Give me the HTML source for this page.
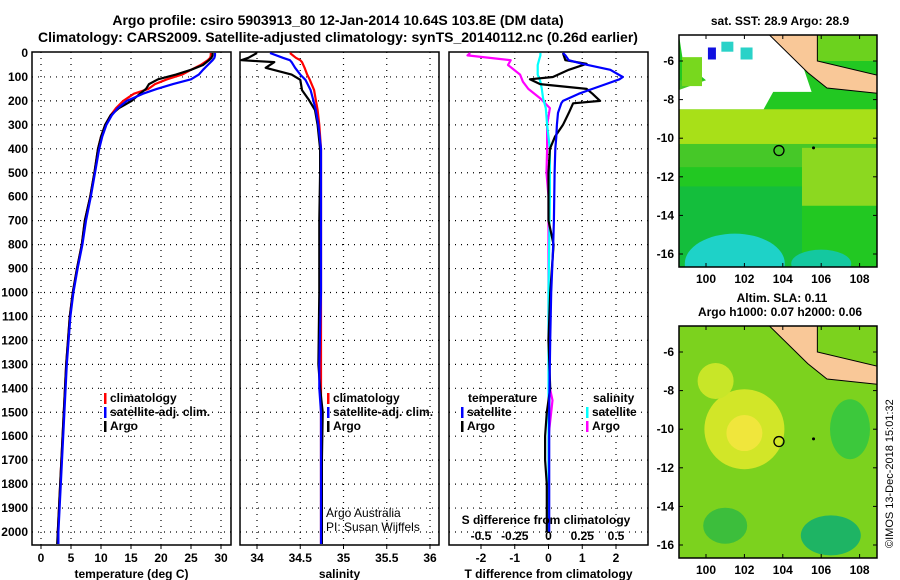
<!DOCTYPE html>
<html><head><meta charset="utf-8">
<style>
html,body{margin:0;padding:0;background:#fff;}
svg{display:block;font-family:"Liberation Sans",sans-serif;}
.t{font-weight:bold;font-size:12px;fill:#000;}
.n{font-size:12px;fill:#000;}
</style></head>
<body>
<svg id="c" width="900" height="580" viewBox="0 0 900 580">
<text x="338" y="25" text-anchor="middle" style="font-size:14px;font-weight:bold">Argo profile: csiro 5903913_80 12-Jan-2014 10.64S 103.8E (DM data)</text>
<text x="338" y="42" text-anchor="middle" style="font-size:14px;font-weight:bold">Climatology: CARS2009. Satellite-adjusted climatology: synTS_20140112.nc (0.26d earlier)</text>
<text x="780" y="25" text-anchor="middle" class="t">sat. SST: 28.9 Argo: 28.9</text>
<text x="782" y="302" text-anchor="middle" class="t">Altim. SLA: 0.11</text>
<text x="780" y="316" text-anchor="middle" class="t">Argo h1000: 0.07 h2000: 0.06</text>
<text transform="translate(893,548) rotate(-90)" style="font-size:11px">©IMOS 13-Dec-2018 15:01:32</text>
</svg>
<script>
// ---- data ----
const depthT = [0,10,20,30,50,70,90,110,130,150,170,200,230,260,300,350,400,500,600,700,800,900,1000,1100,1200,1300,1400,1500,1600,1700,1800,1900,2000,2050];
const tempArgo = [28.6,28.6,28.4,28.0,27.0,25.0,22.5,19.5,18.0,17.5,16.5,15.1,13.0,11.6,10.7,10.0,9.5,8.9,8.2,7.3,6.8,6.0,5.3,4.8,4.5,4.2,4.0,3.8,3.6,3.4,3.2,3.0,2.8,2.7];
const tempClim = [28.3,28.3,28.2,27.8,26.6,25.0,23.5,21.0,19.0,17.9,15.5,13.7,12.5,11.6,10.7,10.0,9.5,8.9,8.2,7.3,6.8,6.0,5.3,4.8,4.5,4.2,4.0,3.8,3.6,3.4,3.2,3.0,2.8,2.8];
const tempSat  = [29.0,29.0,28.9,28.6,27.8,27.0,26.3,25.0,22.0,19.3,17.0,14.3,12.8,11.8,10.9,10.2,9.7,9.0,8.3,7.5,6.9,6.1,5.4,4.9,4.6,4.3,4.1,3.9,3.7,3.5,3.3,3.1,2.9,2.9];
const depthS = [0,20,30,38,62,90,112,155,196,238,300,400,500,700,1000,1300,1400,1500,1700,2000,2050];
const salArgo = [34.0,33.9,33.82,34.2,34.1,34.4,34.5,34.52,34.6,34.67,34.7,34.73,34.73,34.72,34.72,34.71,34.73,34.76,34.75,34.75,34.75];
const salClim = [34.38,34.45,34.5,34.52,34.55,34.58,34.61,34.66,34.68,34.7,34.72,34.74,34.74,34.74,34.74,34.74,34.74,34.74,34.74,34.74,34.74];
const salSat  = [34.15,34.3,34.38,34.4,34.44,34.5,34.56,34.62,34.65,34.68,34.71,34.74,34.74,34.74,34.74,34.72,34.72,34.74,34.74,34.74,34.74];
const depthD = [0,10,30,45,70,100,110,130,150,170,200,210,250,300,350,400,500,700,800,1000,1200,1400,1500,1600,1700,1800,2000];
const dTArgo = [0.43,0.45,0.5,1.13,0.6,0.13,-0.55,-0.25,1.13,1.3,1.53,0.73,0.6,0.43,0.19,0.04,0.0,0.0,0.15,0.05,0.0,0.05,-0.05,-0.1,-0.1,-0.05,-0.05];
const dTSat  = [0.43,0.5,0.6,1.0,1.83,2.2,2.1,1.7,1.3,0.9,0.43,0.38,0.28,0.25,0.23,0.2,0.18,0.16,0.14,0.08,0.05,0.03,0.02,0.02,0.02,0.02,0.02];
const depthSD = [0,10,30,50,90,120,150,190,230,300,400,500,600,800,1000,1200,1400,1450,1500,1600,1800,2000];
const dSArgo = [-0.58,-0.6,-0.28,-0.3,-0.21,-0.19,-0.15,-0.06,0.01,-0.01,-0.01,-0.015,0.0,0.0,0.0,0.0,0.01,0.03,0.02,0.0,0.0,0.0];
const dSSat  = [-0.06,-0.06,-0.07,-0.08,-0.08,-0.06,-0.05,-0.04,-0.02,-0.01,0.01,0.01,0.01,0.005,0.0,0.0,0.0,0.0,0.0,0.0,0.0,0.0];
const depthTicks = [0,100,200,300,400,500,600,700,800,900,1000,1100,1200,1300,1400,1500,1600,1700,1800,1900,2000];
const tempTicks = [0,5,10,15,20,25,30];
const salTicks = [34,34.5,35,35.5,36];
const salTickLabels = ["34","34.5","35","35.5","36"];
const dTTicks = [-2,-1,0,1,2];
const dSTicks = [-0.5,-0.25,0,0.25,0.5];
const dSTickLabels = ["-0.5","-0.25","0","0.25","0.5"];

const svg = document.getElementById('c');
const NS = 'http://www.w3.org/2000/svg';
function mk(tag, attrs, parent){const e=document.createElementNS(NS,tag);for(const k in attrs)e.setAttribute(k,attrs[k]);(parent||svg).appendChild(e);return e;}
function txt(x,y,s,anchor,cls,parent){const e=mk('text',{x:x,y:y,'text-anchor':anchor||'start','class':cls||'t'},parent);e.textContent=s;return e;}

const TOP=52, BOT=545;
const yD = d => 53 + d*0.2395;
function panel(name,x0,x1,xs,ticks,labels,xlabel,showY){
  const g=mk('g',{});
  
  
  depthTicks.forEach(d=>{ if(d>0){const l=mk('line',{x1:x0,x2:x1,y1:yD(d),y2:yD(d),stroke:'#000','stroke-dasharray':'1,5','stroke-width':1.2},g);
     }});
  ticks.forEach((v,i)=>{const x=xs(v);const l=mk('line',{x1:x,x2:x,y1:TOP,y2:BOT,stroke:'#000','stroke-dasharray':'1,5','stroke-width':1.2},g);
     
    mk('line',{x1:x,x2:x,y1:BOT,y2:BOT+4,stroke:'#000'},g);
    const t=txt(x,BOT+17,labels[i],'middle','t',g);
     });
  if(showY){depthTicks.forEach(d=>{const t=txt(x0-4,yD(d)+4,String(d),'end','t',g);
     });}
  const r=mk('rect',{x:x0,y:TOP,width:x1-x0,height:BOT-TOP,fill:'none',stroke:'#000','stroke-width':1.5},g);
   
  const xl=txt((x0+x1)/2,BOT+33,xlabel,'middle','t',g);
   
  return g;
}
function line(g,depths,vals,xs,color,name){
  const pts=depths.map((d,i)=>xs(vals[i]).toFixed(1)+','+yD(d).toFixed(1)).join(' ');
  const p=mk('polyline',{points:pts,fill:'none',stroke:color,'stroke-width':2.2,'stroke-linejoin':'round'},g);
  
  
}
function legend(g,x,y,items){
  items.forEach((it,i)=>{
    mk('rect',{x:x,y:y+i*14-9,width:2.5,height:11,fill:it[0]},g);
    const t=txt(x+6,y+i*14,it[1],'start','t',g);
    
    
  });
}
const xT = v => 41 + v*6;
const g1 = panel('temperature-panel',32,231,xT,tempTicks,tempTicks.map(String),'temperature (deg C)',true);
line(g1,depthT,tempClim,xT,'#f00','temp-climatology-line');
line(g1,depthT,tempArgo,xT,'#000','temp-argo-line');
line(g1,depthT,tempSat,xT,'#00f','temp-satellite-line');
legend(g1,104,402,[['#f00','climatology'],['#00f','satellite-adj. clim.'],['#000','Argo']]);
const xS = v => 257 + (v-34)*86.5;
const g2 = panel('salinity-panel',240,439,xS,salTicks,salTickLabels,'salinity',false);
line(g2,depthS,salClim,xS,'#f00','sal-climatology-line');
line(g2,depthS,salArgo,xS,'#000','sal-argo-line');
line(g2,depthS,salSat,xS,'#00f','sal-satellite-line');
legend(g2,327,402,[['#f00','climatology'],['#00f','satellite-adj. clim.'],['#000','Argo']]);
const a1=txt(326,517,'Argo Australia','start','n',g2);
 
const a2=txt(326,531,'PI: Susan Wijffels','start','n',g2);
 
const xD = v => 548.5 + v*33.75;
const xSD = v => 548.5 + v*4*33.75;
const g3 = panel('difference-panel',449,648,xD,dTTicks,dTTicks.map(String),'T difference from climatology',false);
line(g3,depthSD,dSArgo,xSD,'#f0f','sdiff-argo-line');
line(g3,depthSD,dSSat,xSD,'#0ff','sdiff-satellite-line');
line(g3,depthD,dTArgo,xD,'#000','tdiff-argo-line');
line(g3,depthD,dTSat,xD,'#00f','tdiff-satellite-line');
const lt=txt(468,402,'temperature','start','t',g3);  
legend(g3,461,416,[['#00f','satellite'],['#000','Argo']]);
const ls=txt(593,402,'salinity','start','t',g3);  
legend(g3,586,416,[['#0ff','satellite'],['#f0f','Argo']]);
const sdt=txt(546,524,'S difference from climatology','middle','t',g3);
 
dSTicks.forEach((v,i)=>{const t=txt(xSD(v),540,dSTickLabels[i],'middle','t',g3);
   });

// ---- maps ----
const lonTicks=[100,102,104,106,108];
const latTicks=[-6,-8,-10,-12,-14,-16];
function map(name,top,lat6y,kind){
  const L=679,R=877,B=top+232;
  const xl = lo => 706 + (lo-100)*19.2;
  const yl = la => lat6y + (-6-la)*19.3;
  const g=mk('g',{});
  
  
  const id='clip'+top;
  const cp=mk('clipPath',{id:id},g); mk('rect',{x:L,y:top,width:R-L,height:B-top},cp);
  const gi=mk('g',{'clip-path':'url(#'+id+')'},g);
  if(kind==='sst'){
    mk('rect',{x:L,y:top,width:R-L,height:B-top,fill:'#22c822'},gi);
    mk('rect',{x:L,y:yl(-8.5),width:R-L,height:yl(-10.3)-yl(-8.5),fill:'#a8e018'},gi);
    mk('rect',{x:L,y:yl(-10.3),width:R-L,height:yl(-11.5)-yl(-10.3),fill:'#46c828'},gi);
    mk('rect',{x:xl(105),y:yl(-10.5),width:R-xl(105),height:yl(-13.5)-yl(-10.5),fill:'#8cd820'},gi);
    mk('rect',{x:L,y:yl(-12.5),width:xl(105)-L,height:B-yl(-12.5),fill:'#14be3c'},gi);
    mk('ellipse',{cx:xl(101.5),cy:yl(-16.5),rx:50,ry:30,fill:'#1ed2c8'},gi);
    mk('ellipse',{cx:xl(106),cy:yl(-16.5),rx:30,ry:14,fill:'#14c8a0'},gi);
    mk('rect',{x:L,y:yl(-7),width:xl(103)-L,height:yl(-8.5)-yl(-7),fill:'#46c828'},gi);
    mk('polygon',{points:[[L,top],[xl(104.5),top],[xl(105.5),yl(-7.6)],[xl(103.5),yl(-7.6)],[xl(103),yl(-8.5)],[L,yl(-8.5)],[L,yl(-7.5)],[xl(100),yl(-7)],[xl(98.8),yl(-6)]].join(' '),fill:'#fff'},gi);
    mk('rect',{x:L+3,y:yl(-5.8),width:20,height:yl(-7.3)-yl(-5.8),fill:'#78d81e'},gi);
    mk('rect',{x:xl(100.1),y:yl(-5.3),width:8,height:12,fill:'#1010e0'},gi);
    mk('rect',{x:xl(100.8),y:yl(-5),width:12,height:10,fill:'#2ad2c8'},gi);
    mk('rect',{x:xl(101.8),y:yl(-5.3),width:12,height:12,fill:'#2ad2c8'},gi);
    mk('rect',{x:xl(105.7),y:top,width:R-xl(105.7),height:yl(-6)-top,fill:'#6cd21e'},gi);
  } else {
    mk('rect',{x:L,y:top,width:R-L,height:B-top,fill:'#7cd21e'},gi);
    mk('ellipse',{cx:xl(102),cy:yl(-10),rx:40,ry:40,fill:'#d2e628'},gi);
    mk('ellipse',{cx:xl(102),cy:yl(-10.2),rx:18,ry:18,fill:'#f0e63c'},gi);
    mk('ellipse',{cx:xl(100.5),cy:yl(-7.5),rx:18,ry:18,fill:'#c8e628'},gi);
    mk('ellipse',{cx:xl(107.5),cy:yl(-10),rx:20,ry:30,fill:'#3cc83c'},gi);
    mk('ellipse',{cx:xl(106.5),cy:yl(-15.5),rx:30,ry:20,fill:'#1eb464'},gi);
    mk('ellipse',{cx:xl(101),cy:yl(-15),rx:22,ry:18,fill:'#3cbe3c'},gi);
  }
  const land=mk('polygon',{points:[[xl(103.2),top-2],[xl(105.8),top-2],[xl(105.8),yl(-6)],[xl(109.2),yl(-6.8)],[xl(109.2),yl(-7.7)],[xl(106.3),yl(-7.4)],[xl(105.3),yl(-6.6)]].join(' '),fill:'#f9c898',stroke:'#000','stroke-width':1},gi);
  
  
  const mk1=mk('circle',{cx:xl(103.8),cy:yl(-10.64),r:5,fill:'none',stroke:'#000','stroke-width':1.3},g);
  
  
  mk('circle',{cx:xl(105.6),cy:yl(-10.5),r:1.5,fill:'#000'},g);
  mk('rect',{x:L,y:top,width:R-L,height:B-top,fill:'none',stroke:'#000','stroke-width':1.5},g);
  lonTicks.forEach(lo=>{const x=xl(lo);mk('line',{x1:x,x2:x,y1:top,y2:top+4,stroke:'#000'},g);mk('line',{x1:x,x2:x,y1:B,y2:B-4,stroke:'#000'},g);
    const t=txt(x,B+16,String(lo),'middle','t',g);  });
  latTicks.forEach(la=>{const y=yl(la);mk('line',{x1:L,x2:L+4,y1:y,y2:y,stroke:'#000'},g);mk('line',{x1:R,x2:R-4,y1:y,y2:y,stroke:'#000'},g);
    const t=txt(L-5,y+4,String(la),'end','t',g);  });
}
map('sst-map',35,61,'sst');
map('sla-map',326,352,'sla');
</script>
</body></html>
